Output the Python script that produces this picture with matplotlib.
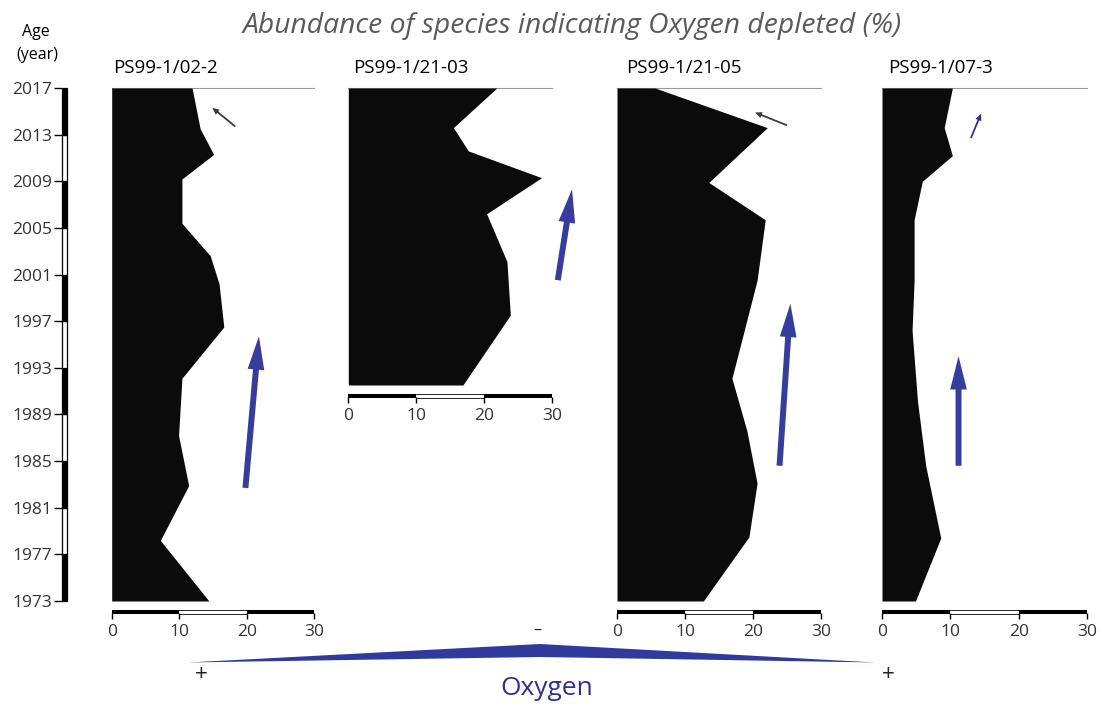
import matplotlib
matplotlib.use("Agg")
import matplotlib.pyplot as plt
from matplotlib.transforms import offset_copy

plt.rcParams['font.family'] = ['Open Sans', 'DejaVu Sans']

# --- data: abundance of oxygen-depletion indicator species (%) by core ---
names = ["PS99-1/02-2", "PS99-1/21-03", "PS99-1/21-05", "PS99-1/07-3"]

years_0202 = [2017, 2013.5, 2011.3, 2009.2, 2005.4, 2002.6, 2000.2, 1996.5, 1992.1, 1987.2, 1982.9, 1978.2, 1973]
o2dep_0202 = [11.9, 13.1, 15.1, 10.4, 10.4, 14.6, 15.9, 16.6, 10.4, 9.9, 11.4, 7.2, 14.4]

years_2103 = [2017, 2013.6, 2011.6, 2009.3, 2006.2, 2002.1, 1997.5, 1991.5]
o2dep_2103 = [21.9, 15.5, 17.7, 28.5, 20.4, 23.4, 23.9, 16.9]

years_2105 = [2017, 2013.6, 2008.9, 2005.7, 2000.5, 1992.1, 1987.6, 1983.1, 1978.5, 1973]
o2dep_2105 = [5.6, 22.1, 13.5, 21.8, 20.6, 16.9, 19.1, 20.6, 19.4, 12.7]

years_0703 = [2017, 2013.6, 2011.2, 2009.0, 2005.7, 2000.5, 1996.2, 1990.1, 1984.6, 1978.4, 1973]
o2dep_0703 = [10.3, 9.1, 10.3, 5.9, 4.7, 4.7, 4.4, 5.2, 6.4, 8.6, 4.9]

all_years = [years_0202, years_2103, years_2105, years_0703]
all_vals = [o2dep_0202, o2dep_2103, o2dep_2105, o2dep_0703]

age_ticks = list(range(1973, 2018, 4))
x_ticks = [0, 10, 20, 30]

# trend arrows (tail, tip) in (% , year); big blue ones and small ones near the top
big_arrows = [((19.8, 1982.7), (21.8, 1995.7)),
              ((30.9, 2000.5), (33.0, 2008.3)),
              ((23.9, 1984.6), (25.5, 1998.5)),
              ((11.2, 1984.6), (11.2, 1994.0))]
small_arrows = [((18.3, 2013.7), (14.9, 2015.3), '#3a3a3a'),
                None,
                ((25.0, 2013.8), (20.3, 2014.9), '#3a3a3a'),
                ((13.0, 2012.7), (14.5, 2014.8), '#2e3192')]

blue = '#383c9c'

W, H = 1102, 704
fig = plt.figure(figsize=(W / 100, H / 100), dpi=100)


def px_axes(left, right, top, bottom, **kw):
    return fig.add_axes([left / W, 1 - bottom / H, (right - left) / W, (bottom - top) / H], **kw)


# overlay for free text and the oxygen wedge, in pixel units
ov = fig.add_axes([0, 0, 1, 1])
ov.set_xlim(0, W)
ov.set_ylim(H, 0)
ov.axis('off')

ov.text(572, 33, "Abundance of species indicating Oxygen depleted (%)", ha='center', va='baseline',
        fontsize=20.3, style='italic', color='#5a5a5a')
ov.text(36, 36, "Age", ha='center', va='baseline', fontsize=11.5)
ov.text(37, 59, "(year)", ha='center', va='baseline', fontsize=11.5)

ov.fill([188, 540, 875, 540], [662.5, 644, 662.5, 657], color='#2f3a9c', lw=0)
ov.text(201, 675, "+", ha='center', va='center', fontsize=16, color='#222')
ov.text(888, 675, "+", ha='center', va='center', fontsize=16, color='#222')
ov.text(538, 631, "–", ha='center', va='center', fontsize=12, color='#222')
ov.text(547, 695, "Oxygen", ha='center', va='baseline', fontsize=19, color='#2e3192')

# panel extents in pixels: left (0 %), right (30 %), bottom
lefts = [111.7, 348.3, 617, 882]
rights = [314.3, 551.7, 821, 1087]
bottoms = [601, 385, 601, 601]
title_x = [113.6, 353.6, 625.7, 888]
top = 88

for i in range(4):
    yrs = all_years[i]
    ax = px_axes(lefts[i], rights[i], top, bottoms[i])
    ax.patch.set_visible(False)
    ax.fill_betweenx(yrs, 0, all_vals[i], color='#0b0b0b', lw=0, zorder=2)
    ax.plot([0, 30], [2017, 2017], color='#9a9a9a', lw=0.8, zorder=1, clip_on=False)
    ax.set_xlim(0, 30)
    ax.set_ylim(min(yrs), 2017)

    for s in ['top', 'right', 'left']:
        ax.spines[s].set_visible(False)
    ax.spines['bottom'].set_position(('outward', 11))
    ax.spines['bottom'].set_visible(False)
    ax.set_yticks([])
    ax.set_xticks(x_ticks)
    ax.set_xticklabels([str(t) for t in x_ticks])
    ax.tick_params(axis='x', direction='inout', length=5, width=1, color='k',
                   labelsize=12.5, labelcolor='#333', pad=3)

    # black / white / black scale bar under each panel
    base = ax.get_xaxis_transform()
    tr = offset_copy(base, fig=fig, y=-11, units='dots')
    ax.plot([0, 10], [0, 0], transform=tr, color='k', lw=2.9, solid_capstyle='butt', clip_on=False)
    ax.plot([20, 30], [0, 0], transform=tr, color='k', lw=2.9, solid_capstyle='butt', clip_on=False)
    for dy in (-9.3, -12.7):
        trw = offset_copy(base, fig=fig, y=dy, units='dots')
        ax.plot([10, 20], [0, 0], transform=trw, color='k', lw=0.6, clip_on=False)

    (x0, y0), (x1, y1) = big_arrows[i]
    ax.annotate('', xy=(x1, y1), xytext=(x0, y0), annotation_clip=False,
                arrowprops=dict(width=4.3, headwidth=12, headlength=24, shrink=0,
                                color=blue, lw=0), zorder=3)
    if small_arrows[i] is not None:
        (x0, y0), (x1, y1), c = small_arrows[i]
        ax.annotate('', xy=(x1, y1), xytext=(x0, y0), annotation_clip=False,
                    arrowprops=dict(width=1.3, headwidth=4.5, headlength=5, shrink=0,
                                    color=c, lw=0), zorder=3)

    ov.text(title_x[i], 73, names[i], ha='left', va='baseline', fontsize=13.5)

# age axis: alternating black and white 4-year blocks
ax_age = px_axes(62, 67, top, 601)
seg_bottoms = age_ticks[:-1]
seg_colors = ['k' if (2017 - b) % 8 == 4 else 'white' for b in seg_bottoms]
ax_age.bar(0.5, 4, bottom=seg_bottoms, width=1, color=seg_colors, edgecolor='k', lw=0.9,
           clip_on=False)
ax_age.set_xlim(0, 1)
ax_age.set_ylim(1973, 2017)
for s in ax_age.spines.values():
    s.set_visible(False)
ax_age.set_xticks([])
ax_age.set_yticks(age_ticks)
ax_age.set_yticklabels([str(t) for t in age_ticks])
ax_age.tick_params(axis='y', length=6, width=1, color='k', labelsize=12.5, labelcolor='#333', pad=1)

fig.savefig("out.png", dpi=100)
